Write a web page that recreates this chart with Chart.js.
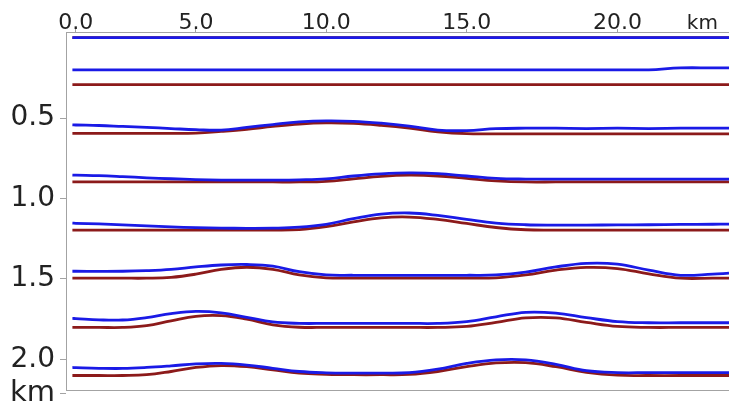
<!DOCTYPE html>
<html lang="en">
<head>
  <meta charset="UTF-8" />
  <title>Reflector depths</title>
  <script src="https://cdn.jsdelivr.net/npm/chart.js@4.4.0/dist/chart.umd.min.js"></script>
  <style>
    html, body { margin: 0; padding: 0; background: #fff; }
  </style>
</head>
<body>
  <canvas id="depth-chart" width="729" height="402"></canvas>
  <script>
    // distance along the profile (km) where the depths were read
    var distanceKm = [-0.15, 0, 1, 2, 3, 4, 5, 6, 7, 8, 9, 10, 11, 12, 13, 14, 15, 16, 17, 18, 19, 20, 21, 22, 23, 23.5];

    // depth (km) of each reflector, blue = estimated, red = model
    var blue1 = [0, 0, 0, 0, 0, 0, 0, 0, 0, 0, 0, 0, 0, 0, 0, 0, 0, 0, 0, 0, 0, 0, 0, 0, 0, 0];
    var red1  = [0, 0, 0, 0, 0, 0, 0, 0, 0, 0, 0, 0, 0, 0, 0, 0, 0, 0, 0, 0, 0, 0, 0, 0, 0, 0];
    var blue2 = [0.2, 0.2, 0.2, 0.2, 0.2, 0.2, 0.2, 0.2, 0.2, 0.2, 0.2, 0.2, 0.2, 0.2, 0.2, 0.2, 0.2, 0.2, 0.2, 0.2, 0.2, 0.2, 0.2, 0.188, 0.188, 0.188];
    var red2  = [0.292, 0.292, 0.292, 0.292, 0.292, 0.292, 0.292, 0.292, 0.292, 0.292, 0.292, 0.292, 0.292, 0.292, 0.292, 0.292, 0.292, 0.292, 0.292, 0.292, 0.292, 0.292, 0.292, 0.292, 0.292, 0.292];
    var blue3 = [0.542, 0.543, 0.546, 0.552, 0.558, 0.565, 0.572, 0.575, 0.558, 0.540, 0.524, 0.517, 0.520, 0.532, 0.550, 0.575, 0.578, 0.566, 0.563, 0.563, 0.565, 0.563, 0.565, 0.563, 0.563, 0.563];
    var red3  = [0.595, 0.595, 0.595, 0.595, 0.595, 0.595, 0.593, 0.583, 0.570, 0.552, 0.537, 0.530, 0.533, 0.545, 0.562, 0.585, 0.597, 0.598, 0.598, 0.598, 0.598, 0.598, 0.598, 0.598, 0.598, 0.598];
    var blue4 = [0.854, 0.855, 0.858, 0.864, 0.871, 0.877, 0.882, 0.885, 0.886, 0.886, 0.884, 0.878, 0.860, 0.847, 0.841, 0.845, 0.860, 0.875, 0.879, 0.879, 0.879, 0.879, 0.879, 0.879, 0.879, 0.879];
    var red4  = [0.897, 0.897, 0.897, 0.897, 0.897, 0.897, 0.897, 0.897, 0.897, 0.897, 0.897, 0.893, 0.878, 0.862, 0.855, 0.860, 0.875, 0.890, 0.897, 0.897, 0.897, 0.897, 0.897, 0.897, 0.897, 0.897];
    var blue5 = [1.153, 1.154, 1.158, 1.164, 1.170, 1.176, 1.181, 1.184, 1.185, 1.184, 1.178, 1.160, 1.125, 1.097, 1.090, 1.105, 1.130, 1.153, 1.163, 1.165, 1.165, 1.164, 1.163, 1.161, 1.160, 1.159];
    var red5  = [1.196, 1.196, 1.196, 1.196, 1.196, 1.196, 1.196, 1.196, 1.196, 1.196, 1.193, 1.175, 1.145, 1.120, 1.115, 1.130, 1.155, 1.180, 1.194, 1.196, 1.196, 1.196, 1.196, 1.196, 1.196, 1.196];
    var blue6 = [1.452, 1.452, 1.453, 1.452, 1.448, 1.440, 1.425, 1.413, 1.410, 1.420, 1.455, 1.475, 1.477, 1.477, 1.477, 1.477, 1.477, 1.475, 1.458, 1.425, 1.403, 1.408, 1.445, 1.477, 1.470, 1.464];
    var red6  = [1.495, 1.495, 1.495, 1.495, 1.495, 1.490, 1.470, 1.440, 1.427, 1.440, 1.475, 1.493, 1.495, 1.495, 1.495, 1.495, 1.495, 1.493, 1.475, 1.445, 1.428, 1.435, 1.468, 1.495, 1.495, 1.495];
    var blue7 = [1.745, 1.746, 1.754, 1.755, 1.740, 1.715, 1.701, 1.710, 1.738, 1.767, 1.776, 1.776, 1.776, 1.776, 1.776, 1.776, 1.765, 1.735, 1.707, 1.712, 1.740, 1.765, 1.772, 1.772, 1.772, 1.772];
    var red7  = [1.801, 1.801, 1.801, 1.801, 1.790, 1.760, 1.732, 1.728, 1.750, 1.785, 1.800, 1.801, 1.801, 1.801, 1.801, 1.801, 1.795, 1.770, 1.742, 1.742, 1.770, 1.795, 1.801, 1.801, 1.801, 1.801];
    var blue8 = [2.050, 2.051, 2.055, 2.056, 2.050, 2.040, 2.028, 2.025, 2.035, 2.055, 2.075, 2.083, 2.085, 2.085, 2.082, 2.060, 2.025, 2.003, 2.003, 2.030, 2.070, 2.082, 2.082, 2.082, 2.082, 2.082];
    var red8  = [2.100, 2.100, 2.100, 2.100, 2.095, 2.075, 2.050, 2.038, 2.045, 2.065, 2.085, 2.092, 2.095, 2.095, 2.093, 2.075, 2.045, 2.022, 2.020, 2.045, 2.080, 2.098, 2.100, 2.100, 2.100, 2.100];

    // axis ticks
    var xTicks = [0, 5, 10, 15, 20];
    var yTicks = [0.5, 1.0, 1.5, 2.0];
    var xUnitAt = 22.68;   // where the "km" caption sits on the top axis
    var yUnitAt = 2.21;    // and on the depth axis

    var BLUE = '#1a1ae6';
    var RED = '#8c1a1a';
    var AXIS = '#a3a3a3';
    var FONT = 'DejaVu Sans';

    // the distance axis in the figure gets wider to the right,
    // so map km through a small quadratic stretch
    var X_WARP = 0.0089;
    function warp(v) { return v + X_WARP * v * v; }

    class WarpedScale extends Chart.LinearScale {
      getPixelForValue(value) {
        var u0 = warp(this.min), u1 = warp(this.max);
        return this.getPixelForDecimal((warp(value) - u0) / (u1 - u0));
      }
      getValueForPixel(pixel) {
        var u0 = warp(this.min), u1 = warp(this.max);
        var u = u0 + this.getDecimalForPixel(pixel) * (u1 - u0);
        return (-1 + Math.sqrt(1 + 4 * X_WARP * u)) / (2 * X_WARP);
      }
    }
    WarpedScale.id = 'warped';
    Chart.register(WarpedScale);

    function toPoints(depths) {
      return depths.map(function (d, i) {
        return { x: distanceKm[i], y: d };
      });
    }

    var blueLayers = [blue1, blue2, blue3, blue4, blue5, blue6, blue7, blue8];
    var redLayers = [red1, red2, red3, red4, red5, red6, red7, red8];

    var datasets = [];
    // first datasets are drawn on top, so blue goes first
    blueLayers.forEach(function (depths) {
      datasets.push({ data: toPoints(depths), borderColor: BLUE, borderWidth: 2.8, xAxisID: 'x', yAxisID: 'y' });
    });
    redLayers.forEach(function (depths) {
      datasets.push({ data: toPoints(depths), borderColor: RED, borderWidth: 2.8, xAxisID: 'x', yAxisID: 'y' });
    });

    var ctx = document.getElementById('depth-chart').getContext('2d');
    new Chart(ctx, {
      type: 'line',
      data: { datasets: datasets },
      options: {
        responsive: false,
        animation: false,
        layout: { padding: { left: 0, right: 0, top: 0, bottom: 12 } },
        plugins: { legend: { display: false }, tooltip: { enabled: false } },
        elements: {
          point: { radius: 0 },
          line: { tension: 0.4, fill: false }
        },
        scales: {
          x: {
            type: 'warped',
            position: 'top',
            min: -0.43,
            max: 23.5,
            afterBuildTicks: function (s) {
              s.ticks = xTicks.concat([xUnitAt]).map(function (v) { return { value: v }; });
            },
            afterFit: function (s) {
              s.height = 32;
              s.paddingLeft = 0;
              s.paddingRight = 0;
            },
            ticks: {
              autoSkip: false,
              maxRotation: 0,
              padding: -7,
              color: '#222',
              font: function (c) {
                return c.tick && c.tick.value > 22 ? { family: FONT, size: 20 } : { family: FONT, size: 22 };
              },
              callback: function (v) { return v > 22 ? 'km' : v.toFixed(1); }
            },
            grid: {
              drawOnChartArea: false,
              tickLength: 3,
              tickColor: function (c) {
                return c.tick && c.tick.value > 22 ? 'rgba(0,0,0,0)' : AXIS;
              }
            },
            border: { color: AXIS }
          },
          xBottom: {
            type: 'linear',
            position: 'bottom',
            min: -0.43,
            max: 23.5,
            afterFit: function (s) { s.height = 0; },
            ticks: { display: false },
            grid: { drawOnChartArea: false, drawTicks: false },
            border: { color: AXIS }
          },
          y: {
            type: 'linear',
            reverse: true,
            min: -0.035,
            max: 2.19,
            afterBuildTicks: function (s) {
              s.ticks = yTicks.concat([yUnitAt]).map(function (v) { return { value: v }; });
            },
            afterFit: function (s) {
              s.width = 66;
              s.paddingTop = 0;
              s.paddingBottom = 0;
            },
            ticks: {
              autoSkip: false,
              padding: 5,
              color: '#222',
              font: function (c) {
                return c.tick && c.tick.value > 2.1 ? { family: FONT, size: 29 } : { family: FONT, size: 28 };
              },
              callback: function (v) { return v > 2.1 ? 'km' : v.toFixed(1); }
            },
            grid: { drawOnChartArea: false, tickLength: 6, tickColor: AXIS },
            border: { color: AXIS }
          }
        }
      }
    });
  </script>
</body>
</html>
